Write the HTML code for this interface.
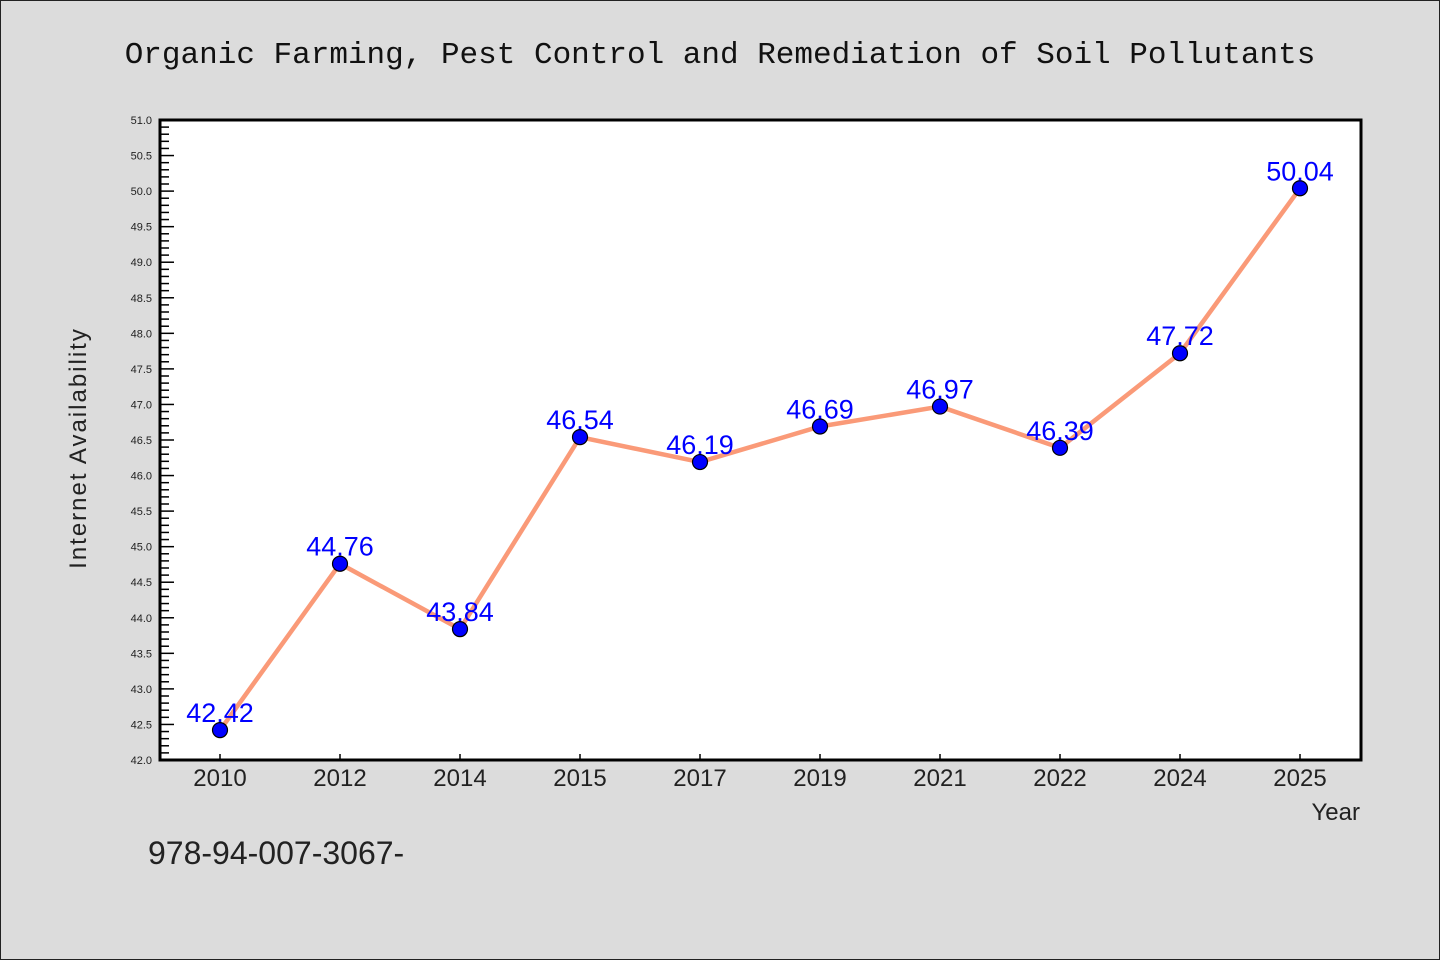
<!DOCTYPE html>
<html><head><meta charset="utf-8"><style>
html,body{margin:0;padding:0;background:#dcdcdc;}
svg{display:block;}
text{font-family:"WenQuanYi Zen Hei","Liberation Sans",sans-serif;}
</style></head><body>
<svg id="chart" width="1440" height="960" xmlns="http://www.w3.org/2000/svg">
<rect x="0.5" y="0.5" width="1439" height="959" fill="#dcdcdc" stroke="#222"/>
<text x="720" y="63" text-anchor="middle" font-size="31" fill="#111" style="font-family:'Liberation Mono','WenQuanYi Zen Hei',monospace">Organic Farming, Pest Control and Remediation of Soil Pollutants</text>
<rect x="160" y="120" width="1201" height="640" fill="#fff"/>
<g id="yaxis"></g><g id="xaxis"></g><g id="series"></g>
<rect x="160" y="120" width="1201" height="640" fill="none" stroke="#000" stroke-width="3"/>
<text x="86" y="448" transform="rotate(-90 86 448)" text-anchor="middle" font-size="24" fill="#222" style="letter-spacing:2px">Internet Availability</text>
<text x="1360" y="820" text-anchor="end" font-size="24" fill="#222">Year</text>
<text x="148" y="864" font-size="32" fill="#222">978-94-007-3067-</text>
</svg>
<script>
const categories=["2010","2012","2014","2015","2017","2019","2021","2022","2024","2025"];
const values=[42.42,44.76,43.84,46.54,46.19,46.69,46.97,46.39,47.72,50.04];
const valueLabels=["42.42","44.76","43.84","46.54","46.19","46.69","46.97","46.39","47.72","50.04"];
const yMin=42,yMax=51,yStep=0.5;
const NS="http://www.w3.org/2000/svg";
const L=160,R=1361,T=120,B=760;
function y(v){return B-(v-yMin)/(yMax-yMin)*(B-T);}
function x(i){return L+60+i*120;}
function mk(tag,attrs,parent){const e=document.createElementNS(NS,tag);for(const k in attrs)e.setAttribute(k,attrs[k]);parent.appendChild(e);return e;}
const ya=document.getElementById('yaxis'),xa=document.getElementById('xaxis'),se=document.getElementById('series');
for(let v=yMin;v<=yMax+1e-9;v+=0.1){
  const major=Math.abs(Math.round(v/yStep)*yStep-v)<1e-6;
  const t=mk('line',{x1:L,x2:L+(major?14:9),y1:y(v),y2:y(v),stroke:'#000','stroke-width':1.5},ya);
  
  
  if(major){
    const lb=mk('text',{x:L-8,y:y(v)+4,'text-anchor':'end','font-size':11,fill:'#222'},ya);
    lb.textContent=v.toFixed(1);
    
    
  }
}
categories.forEach((c,i)=>{
  const t=mk('line',{x1:x(i),x2:x(i),y1:B,y2:B-6,stroke:'#000','stroke-width':1.5},xa);
  
  
  const lb=mk('text',{x:x(i),y:B+26,'text-anchor':'middle','font-size':24,fill:'#222'},xa);
  lb.textContent=c;
  
  
});
const line=mk('polyline',{points:values.map((v,i)=>x(i)+','+y(v)).join(' '),fill:'none',stroke:'#fa9a78','stroke-width':4.5},se);


values.forEach((v,i)=>{
  const p=mk('circle',{cx:x(i),cy:y(v),r:7.5,fill:'#0000ff',stroke:'#000','stroke-width':1.2},se);
  
  
  const lb=mk('text',{x:x(i),y:y(v)-8,'text-anchor':'middle','font-size':27,fill:'#0000ff'},se);
  lb.textContent=valueLabels[i];
  
  
});
</script>
</body></html>
